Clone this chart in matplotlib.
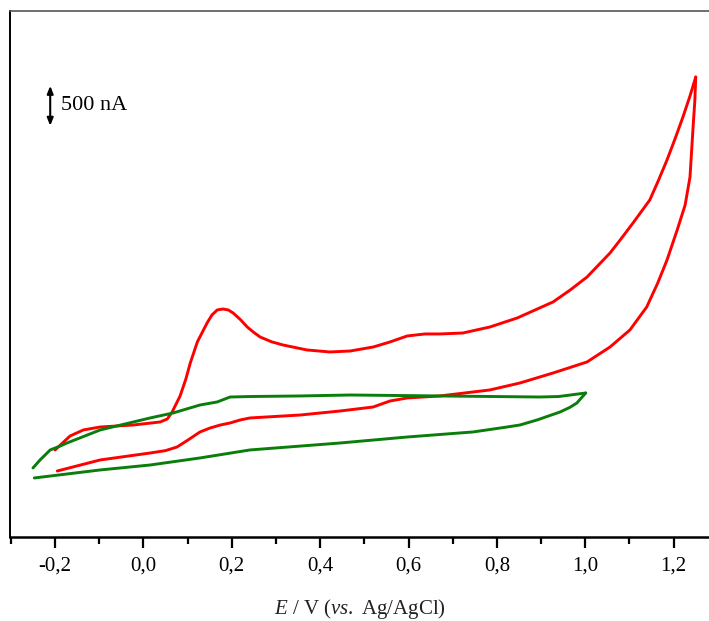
import matplotlib
matplotlib.use("Agg")
import matplotlib.pyplot as plt
from matplotlib.ticker import MultipleLocator, FuncFormatter

plt.rcParams["font.family"] = ["Liberation Serif", "DejaVu Serif"]
plt.rcParams["mathtext.fontset"] = "custom"
plt.rcParams["mathtext.rm"] = "Liberation Serif"
plt.rcParams["mathtext.it"] = "Liberation Serif:italic"

# Potential (V vs. Ag/AgCl) and current (nA, relative) for each voltammogram
red_fwd_E = [-0.200, -0.166, -0.136, -0.098, -0.023, 0.038, 0.054, 0.065, 0.083, 0.096,
             0.106, 0.122, 0.144, 0.155, 0.167, 0.180, 0.192, 0.203, 0.219, 0.235,
             0.248, 0.264, 0.290, 0.316, 0.370, 0.422, 0.468, 0.520, 0.558, 0.597,
             0.637, 0.671, 0.723, 0.784, 0.846, 0.927, 0.966, 1.004, 1.056, 1.079,
             1.108, 1.146, 1.165, 1.185, 1.203, 1.221, 1.237, 1.250]
red_fwd_I = [1088, 1263, 1338, 1375, 1400, 1438, 1475, 1563, 1763, 1975,
             2175, 2438, 2675, 2775, 2838, 2850, 2838, 2800, 2720, 2625,
             2565, 2500, 2440, 2400, 2338, 2313, 2325, 2375, 2438, 2513,
             2538, 2538, 2550, 2625, 2738, 2938, 3088, 3250, 3550, 3713,
             3925, 4213, 4450, 4713, 4975, 5250, 5513, 5750]

red_rev_E = [1.250, 1.248, 1.244, 1.237, 1.226, 1.208, 1.185, 1.164, 1.139, 1.101,
             1.056, 1.004, 0.927, 0.852, 0.784, 0.671, 0.597, 0.558, 0.520, 0.445,
             0.355, 0.241, 0.219, 0.196, 0.174, 0.151, 0.128, 0.101, 0.076, 0.050,
             0.015, -0.098, -0.195]
red_rev_I = [5750, 5460, 5125, 4500, 4150, 3838, 3463, 3175, 2875, 2588,
             2375, 2188, 2050, 1925, 1838, 1763, 1738, 1700, 1625, 1575,
             1525, 1488, 1463, 1425, 1400, 1363, 1313, 1213, 1125, 1080,
             1050, 963, 825]

green_fwd_E = [-0.250, -0.234, -0.211, -0.188, -0.173, -0.098, 0.015, 0.067, 0.128,
               0.167, 0.196, 0.241, 0.355, 0.468, 0.671, 0.897, 0.940, 1.001]
green_fwd_I = [863, 963, 1088, 1138, 1175, 1338, 1488, 1550, 1650,
               1688, 1750, 1756, 1763, 1775, 1763, 1750, 1756, 1800]

green_rev_E = [1.001, 0.991, 0.981, 0.965, 0.943, 0.891, 0.852, 0.823, 0.746, 0.597,
               0.445, 0.241, 0.128, 0.015, -0.098, -0.247]
green_rev_I = [1800, 1738, 1675, 1620, 1563, 1463, 1400, 1375, 1313, 1250,
               1175, 1088, 988, 900, 838, 738]

x_ticks = [-0.2, 0.0, 0.2, 0.4, 0.6, 0.8, 1.0, 1.2]
scale_bar_nA = 500

fig = plt.figure(figsize=(7.09, 6.21), dpi=100)
ax = fig.add_axes([10 / 709, 84 / 621, 699 / 709, 526 / 621])

red = "#ff0000"
green = "#0a7d0a"
lw = 2.1
style = dict(lw=lw, solid_joinstyle="round", solid_capstyle="round")
ax.plot(red_fwd_E, red_fwd_I, color=red, **style)
ax.plot(red_rev_E, red_rev_I, color=red, **style)
ax.plot(green_fwd_E, green_fwd_I, color=green, **style)
ax.plot(green_rev_E, green_rev_I, color=green, **style)

ax.set_xlim(-0.302, 1.28)
ax.set_ylim(0, 6575)

ax.set_xticks(x_ticks)
ax.xaxis.set_minor_locator(MultipleLocator(0.1))
ax.xaxis.set_major_formatter(FuncFormatter(lambda v, p: f"{v:.1f}".replace(".", ",").replace("-0,0", "0,0")))
ax.tick_params(axis="x", which="major", direction="out", length=8, width=1.6,
               labelsize=15, pad=6, color="black")
ax.tick_params(axis="x", which="minor", direction="out", length=5, width=1.6, color="black")
ax.set_yticks([])

ax.spines["right"].set_visible(False)
ax.spines["top"].set_color("#555555")
ax.spines["top"].set_linewidth(1.2)
ax.spines["left"].set_linewidth(1.4)
ax.spines["bottom"].set_linewidth(1.8)

ax.set_xlabel(r"$E$ / V ($vs.$ Ag/AgCl)", fontsize=15, labelpad=15.5, color="#222222")

# Current scale bar
bar_x = -0.211
bar_y0 = 5140
ax.annotate("", xy=(bar_x, bar_y0 + scale_bar_nA), xytext=(bar_x, bar_y0),
            arrowprops=dict(arrowstyle="<|-|>,head_length=0.45,head_width=0.18",
                            color="black", lw=1.5, shrinkA=0, shrinkB=0))
ax.text(-0.186, bar_y0 + scale_bar_nA / 2, f"{scale_bar_nA} nA", fontsize=16,
        va="center", ha="left")

fig.savefig("out.png", dpi=100)
